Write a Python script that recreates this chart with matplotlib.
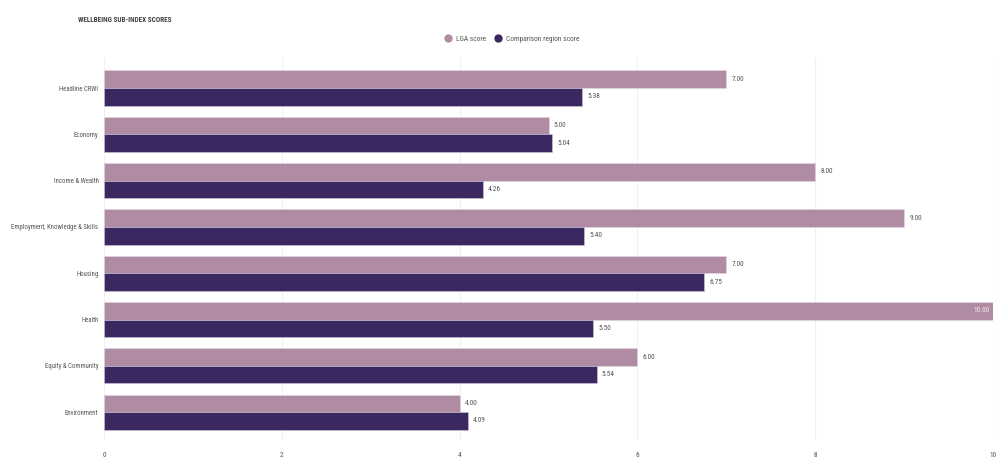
#!/usr/bin/env python3

import numpy as np
import matplotlib
matplotlib.use("Agg")
import matplotlib.pyplot as plt
from matplotlib.lines import Line2D


# =====================================================
# DATA
# =====================================================

CATEGORIES = [
    "Headline CRWI",
    "Economy",
    "Income & Wealth",
    "Employment, Knowledge & Skills",
    "Housing",
    "Health",
    "Equity & Community",
    "Environment",
]

LGA_SCORE = [7.00, 5.00, 8.00, 9.00, 7.00, 10.00, 6.00, 4.00]
REGION_SCORE = [5.38, 5.04, 4.26, 5.40, 6.75, 5.50, 5.54, 4.09]

X_TICKS = [0, 2, 4, 6, 8, 10]


# =====================================================
# STIL
# =====================================================

LGA_COLOR = "#AF8BA4"
REGION_COLOR = "#3B2860"
TEXT_COLOR = "#555555"
GRID_COLOR = "#F0F0F0"

BAR_HEIGHT = 0.38
FONTS = ["Roboto Condensed", "Roboto", "DejaVu Sans"]
LABEL_SIZE = 5.3
YLABEL_SIZE = 4.9


def main():
    plt.rcParams["font.family"] = FONTS

    fig = plt.figure(figsize=(10, 4.65), dpi=100)
    ax = fig.add_axes([0.104, 0.0538, 0.889, 0.8215])

    y = np.arange(len(CATEGORIES))

    ax.barh(y - BAR_HEIGHT / 2, LGA_SCORE, height=BAR_HEIGHT,
            color=LGA_COLOR, edgecolor="#E6DAE2", linewidth=0.4, zorder=2)
    ax.barh(y + BAR_HEIGHT / 2, REGION_SCORE, height=BAR_HEIGHT,
            color=REGION_COLOR, edgecolor="#CFC6DA", linewidth=0.4, zorder=2)

    # Verdietiketter
    for i, (a, b) in enumerate(zip(LGA_SCORE, REGION_SCORE)):
        if a >= 9.9:
            ax.text(a - 0.04, i - BAR_HEIGHT / 2, f"{a:.2f}",
                    ha="right", va="center", fontsize=LABEL_SIZE, color="#F2EAF0")
        else:
            ax.text(a + 0.06, i - BAR_HEIGHT / 2, f"{a:.2f}",
                    ha="left", va="center", fontsize=LABEL_SIZE, color=TEXT_COLOR)
        ax.text(b + 0.06, i + BAR_HEIGHT / 2, f"{b:.2f}",
                ha="left", va="center", fontsize=LABEL_SIZE, color=TEXT_COLOR)

    ax.set_xlim(0, 10)
    ax.set_ylim(7.6, -0.65)
    ax.set_xticks(X_TICKS)
    ax.set_xticklabels([str(t) for t in X_TICKS])
    ax.set_yticks(y)
    ax.set_yticklabels(CATEGORIES)

    ax.tick_params(axis="x", length=0, pad=9, labelsize=LABEL_SIZE, labelcolor=TEXT_COLOR)
    ax.tick_params(axis="y", length=0, pad=4, labelsize=YLABEL_SIZE, labelcolor=TEXT_COLOR)

    ax.grid(True, axis="x", color=GRID_COLOR, linewidth=0.8, zorder=0)
    ax.set_axisbelow(True)
    for spine in ax.spines.values():
        spine.set_visible(False)

    fig.text(0.078, 0.957, "WELLBEING SUB-INDEX SCORES", fontsize=5.2,
             fontweight="bold", color="#444444", ha="left", va="center")

    handles = [
        Line2D([], [], marker="o", linestyle="None", markersize=5,
               color=LGA_COLOR, label="LGA score"),
        Line2D([], [], marker="o", linestyle="None", markersize=5,
               color=REGION_COLOR, label="Comparison region score"),
    ]
    fig.legend(handles=handles, loc="center", bbox_to_anchor=(0.51, 0.916),
               ncol=2, frameon=False, fontsize=LABEL_SIZE, handletextpad=0.1,
               columnspacing=0.6, labelcolor=TEXT_COLOR)

    fig.savefig("out.png", dpi=100)


if __name__ == "__main__":
    main()
